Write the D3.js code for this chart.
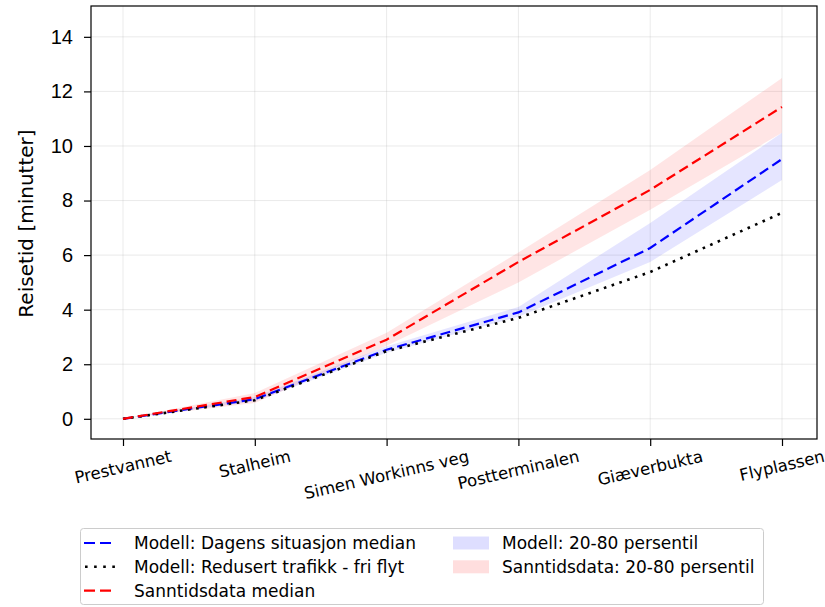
<!DOCTYPE html>
<meta charset="utf-8">
<style>
    body { margin: 0; background: #fff; }
    svg { font-family: "DejaVu Sans", sans-serif; }
    .grid line { stroke: #b0b0b0; stroke-opacity: 0.3; stroke-width: 0.9; }
    .axis path, .axis line { stroke: #000; stroke-width: 1.2; }
    .axis text { fill: #000; }
</style>
<body>
<script src="https://d3js.org/d3.v7.min.js"></script>
<script>
    // stops along the route
    const stops = ["Prestvannet", "Stalheim", "Simen Workinns veg", "Postterminalen", "Giæverbukta", "Flyplassen"];

    // minutes
    const modelMedian = [0, 0.72, 2.53, 3.9, 6.26, 9.52];
    const freeFlow    = [0, 0.68, 2.48, 3.7, 5.38, 7.55];
    const realMedian  = [0, 0.8, 2.9, 5.75, 8.39, 11.43];
    const modelLow    = [0, 0.64, 2.42, 3.74, 5.75, 8.75];
    const modelHigh   = [0, 0.8, 2.66, 4.1, 7.18, 10.48];
    const realLow     = [0, 0.58, 2.68, 5.0, 7.66, 10.48];
    const realHigh    = [0, 0.95, 3.15, 6.1, 9.12, 12.49];
    const yTicks = [0, 2, 4, 6, 8, 10, 12, 14];

    const W = 825, H = 607;
    const plotL = 91, plotR = 817, plotT = 6, plotB = 439;

    const svg = d3.select("body").append("svg")
        .attr("width", W).attr("height", H);

    const x = d3.scalePoint().domain(stops).range([123, 782]);
    const y = d3.scaleLinear().domain([-0.74, 15.13]).range([plotB, plotT]);

    // grid
    const grid = svg.append("g").attr("class", "grid");
    grid.selectAll(".gx").data(stops).enter().append("line")
        .attr("x1", d => x(d)).attr("x2", d => x(d))
        .attr("y1", plotT).attr("y2", plotB);
    grid.selectAll(".gy").data(yTicks).enter().append("line")
        .attr("x1", plotL).attr("x2", plotR)
        .attr("y1", d => y(d)).attr("y2", d => y(d));

    const band = (lo, hi) => d3.area()
        .x((d, i) => x(stops[i]))
        .y0((d, i) => y(lo[i]))
        .y1((d, i) => y(hi[i]));

    svg.append("path").datum(stops)
        .attr("d", band(modelLow, modelHigh))
        .attr("fill", "blue").attr("fill-opacity", 0.1);
    svg.append("path").datum(stops)
        .attr("d", band(realLow, realHigh))
        .attr("fill", "red").attr("fill-opacity", 0.1);

    const line = d3.line().x((d, i) => x(stops[i])).y(d => y(d));
    const dashed = "10,5", dotted = "2.6,5.6";

    svg.append("path").datum(modelMedian).attr("d", line)
        .attr("fill", "none").attr("stroke", "blue").attr("stroke-width", 2.2)
        .attr("stroke-dasharray", dashed);
    svg.append("path").datum(freeFlow).attr("d", line)
        .attr("fill", "none").attr("stroke", "#000").attr("stroke-width", 2.6)
        .attr("stroke-dasharray", dotted);
    svg.append("path").datum(realMedian).attr("d", line)
        .attr("fill", "none").attr("stroke", "red").attr("stroke-width", 2.2)
        .attr("stroke-dasharray", dashed);

    // frame
    svg.append("rect")
        .attr("x", plotL).attr("y", plotT)
        .attr("width", plotR - plotL).attr("height", plotB - plotT)
        .attr("fill", "none").attr("stroke", "#000").attr("stroke-width", 1.2);

    // y axis
    const yAxis = svg.append("g").attr("class", "axis")
        .attr("transform", `translate(${plotL},0)`)
        .call(d3.axisLeft(y).tickValues(yTicks).tickSize(7).tickPadding(11).tickFormat(d3.format("d")));
    yAxis.select(".domain").remove();
    yAxis.selectAll("text").style("font-size", "20px");

    // x axis
    const xAxis = svg.append("g").attr("class", "axis")
        .attr("transform", `translate(0,${plotB})`)
        .call(d3.axisBottom(x).tickSize(7).tickFormat(""));
    xAxis.select(".domain").remove();

    const rot = 13;
    const ang = rot * Math.PI / 180;
    const fx = 16.5;
    const xl = svg.append("g").selectAll("text").data(stops).enter().append("text")
        .style("font-size", fx + "px")
        .attr("text-anchor", "middle")
        .attr("dominant-baseline", "central")
        .text(d => d);
    xl.attr("transform", function(d) {
        const w = this.getComputedTextLength();
        const half = (w * Math.sin(ang) + fx * Math.cos(ang)) / 2;
        return `translate(${x(d)},${plotB + 9 + half}) rotate(${-rot})`;
    });

    svg.append("text")
        .attr("transform", `translate(26,${(plotT + plotB) / 2 + 1}) rotate(-90)`)
        .attr("text-anchor", "middle")
        .attr("dominant-baseline", "central")
        .style("font-size", "20px")
        .text("Reisetid [minutter]");

    // legend
    const lg = svg.append("g");
    lg.append("rect")
        .attr("x", 80.5).attr("y", 528.5).attr("width", 683).attr("height", 76)
        .attr("rx", 3).attr("fill", "#fff").attr("fill-opacity", 0.8)
        .attr("stroke", "#cccccc").attr("stroke-width", 1);

    const lineItems = [
        {label: "Modell: Dagens situasjon median", color: "blue", dash: "11,5", w: 2.2},
        {label: "Modell: Redusert trafikk - fri flyt", color: "#000", dash: "2.6,6.5", w: 2.6},
        {label: "Sanntidsdata median", color: "red", dash: "11,5", w: 2.2}
    ];
    const bandItems = [
        {label: "Modell: 20-80 persentil", color: "blue"},
        {label: "Sanntidsdata: 20-80 persentil", color: "red"}
    ];
    const rowY = i => 543 + i * 23.8;

    lineItems.forEach((d, i) => {
        lg.append("line")
            .attr("x1", 83).attr("x2", 116).attr("y1", rowY(i)).attr("y2", rowY(i))
            .attr("stroke", d.color).attr("stroke-width", d.w).attr("stroke-dasharray", d.dash)
            .attr("stroke-dashoffset", d.color === "#000" ? -2 : -1);
        lg.append("text").attr("x", 134).attr("y", rowY(i))
            .attr("dominant-baseline", "central").style("font-size", "17px")
            .text(d.label);
    });
    bandItems.forEach((d, i) => {
        lg.append("rect")
            .attr("x", 453).attr("y", rowY(i) - 6.5).attr("width", 36).attr("height", 13)
            .attr("fill", d.color).attr("fill-opacity", 0.13);
        lg.append("text").attr("x", 502).attr("y", rowY(i))
            .attr("dominant-baseline", "central").style("font-size", "17px")
            .text(d.label);
    });
</script>
</body>
